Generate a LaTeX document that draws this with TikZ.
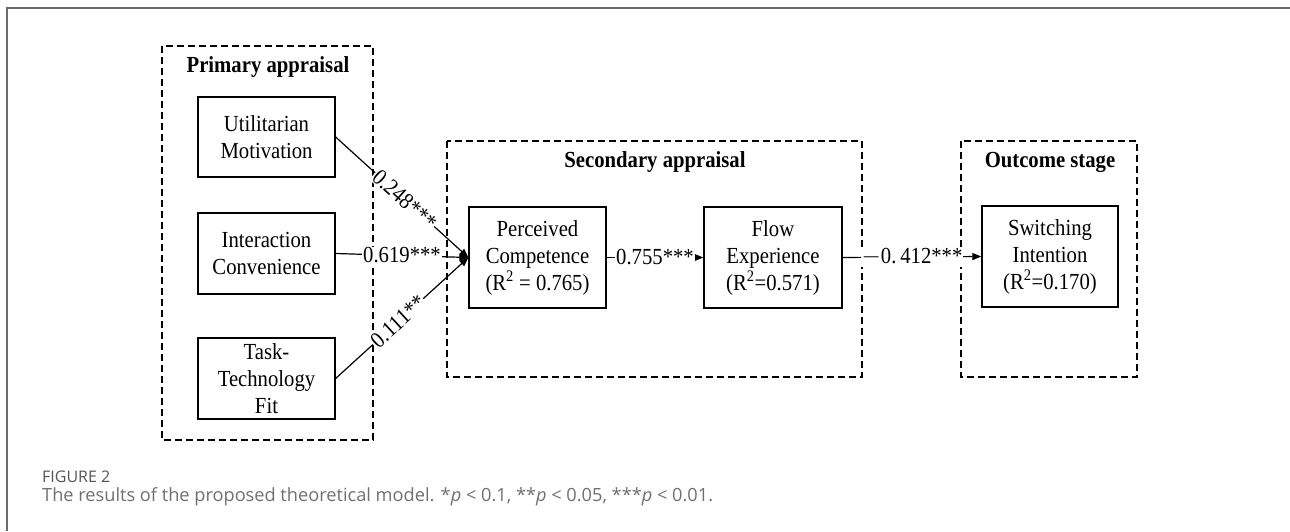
\documentclass[tikz,border=0pt]{standalone}
\usepackage{fontspec}
\setmainfont{Liberation Serif}[FakeStretch=0.9]
\newfontfamily\capfont{Open Sans}
\usetikzlibrary{arrows.meta}
\definecolor{framegray}{HTML}{6A6A6A}
\definecolor{figgray}{HTML}{555555}
\definecolor{capgray}{HTML}{707070}
\tikzset{
  var/.style={draw, line width=1.3pt, align=center, inner sep=0pt,
    font=\fontsize{23}{27}\selectfont},
  stagebox/.style={draw, line width=1.3pt, dash pattern=on 7pt off 4pt},
  stagetitle/.style={font=\fontsize{23}{26}\selectfont\bfseries},
  path/.style={line width=1.2pt, -{Triangle[length=9pt,width=7pt]}},
  coef/.style={font=\fontsize{23}{26}\selectfont, fill=white, inner sep=1pt}
}
\begin{document}
\begin{tikzpicture}[x=1pt,y=-1pt]
\useasboundingbox (0,0) rectangle (1290,531);
% outer frame
\draw[framegray, line width=1.5pt] (7,531) -- (7,8) -- (1290,8);
% stage boxes
\draw[stagebox] (162,46) rectangle (373,440);
\draw[stagebox] (447,141) rectangle (862,377);
\draw[stagebox] (961,141) rectangle (1137,377);
\node[stagetitle] (t1) at (268,67) {Primary appraisal};
\node[stagetitle] (t2) at (655,162) {Secondary appraisal};
\node[stagetitle] (t3) at (1050,162) {Outcome stage};
% variables
\node[var, minimum width=137pt, minimum height=80pt] (um) at (266.5,137) {Utilitarian\\Motivation};
\node[var, minimum width=137pt, minimum height=81pt] (ic) at (266.5,253.5) {Interaction\\Convenience};
\node[var, minimum width=137pt, minimum height=81pt] (ttf) at (266.5,378.5) {Task-\\Technology\\Fit};
\node[var, minimum width=137pt, minimum height=101pt] (pc) at (537.5,257.5) {Perceived\\Competence\\(R\textsuperscript{2} = 0.765)};
\node[var, minimum width=138pt, minimum height=101pt] (fe) at (773,257.5) {Flow\\Experience\\(R\textsuperscript{2}=0.571)};
\node[var, minimum width=136pt, minimum height=101pt] (si) at (1050,256.5) {Switching\\Intention\\(R\textsuperscript{2}=0.170)};
% paths
\draw[path] (um.east) -- node[coef, sloped, pos=0.52] {0.248***} (pc.west);
\draw[path] (ic.east) -- node[coef, pos=0.5] {0.619***} (pc.west);
\draw[path] (ttf.east) -- node[coef, sloped, pos=0.47] {0.111**} (pc.west);
\draw[path] (pc.east) -- node[coef, pos=0.5] {0.755***} (fe.west);
\draw[path] (fe.east) -- node[coef, pos=0.5] {$-$0.\,412***} (si.west);
% caption
\node[anchor=west, inner sep=0pt, text=figgray, font=\capfont\fontsize{16}{18}\selectfont] (fig) at (42,477) {FIGURE 2};
\node[anchor=west, inner sep=0pt, text=capgray, font=\capfont\fontsize{18.2}{21}\selectfont] (cap) at (42,497) {The results of the proposed theoretical model. *\textit{p} {<} 0.1, **\textit{p} {<} 0.05, ***\textit{p} {<} 0.01.};
\end{tikzpicture}
\end{document}
